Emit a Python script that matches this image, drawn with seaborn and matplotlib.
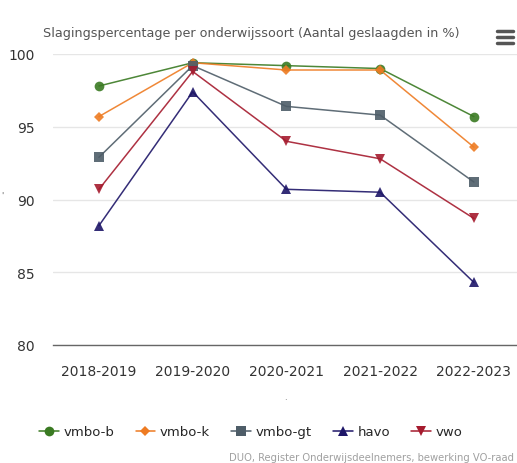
import pandas as pd
import matplotlib
matplotlib.use("Agg")
import matplotlib.pyplot as plt
import seaborn as sns
from matplotlib.lines import Line2D

# data
years = ["2018-2019", "2019-2020", "2020-2021", "2021-2022", "2022-2023"]
vmbo_b = [97.8, 99.4, 99.2, 99.0, 95.7]
vmbo_k = [95.7, 99.4, 98.9, 98.9, 93.6]
vmbo_gt = [92.9, 99.2, 96.4, 95.8, 91.2]
havo = [88.2, 97.4, 90.7, 90.5, 84.3]
vwo = [90.7, 98.8, 94.0, 92.8, 88.7]

series = ["vmbo-b", "vmbo-k", "vmbo-gt", "havo", "vwo"]
colors = ["#3a7a22", "#ee7b22", "#4e5d68", "#1e1668", "#a51b2e"]
markers = ["o", "D", "s", "^", "v"]
msizes = [7, 5, 7, 7, 7]

df = pd.DataFrame({
    "jaar": years * 5,
    "pct": vmbo_b + vmbo_k + vmbo_gt + havo + vwo,
    "soort": [s for s in series for _ in years],
})

sns.set_style("white")
fig = plt.figure(figsize=(5.17, 4.64), dpi=100)
ax = fig.add_axes([53 / 517, 1 - 346 / 464, 464 / 517, 291 / 464])

for s, c, m, ms in zip(series, colors, markers, msizes):
    sub = df[df["soort"] == s]
    sns.lineplot(data=sub, x="jaar", y="pct", ax=ax, color=c, marker=m,
                 markersize=ms, markeredgewidth=0, linewidth=1.1,
                 legend=False, sort=False)
    ax.lines[-1].set_alpha(0.9)

ax.set_ylim(80, 100)
ax.set_xlim(-0.49, 4.46)
ax.set_yticks([80, 85, 90, 95, 100])
ax.yaxis.grid(True, color="#e6e6e6", linewidth=1)
ax.set_axisbelow(True)
for sp in ["left", "right", "top"]:
    ax.spines[sp].set_visible(False)
ax.spines["bottom"].set_color("#666666")
ax.spines["bottom"].set_linewidth(1)
ax.tick_params(axis="both", length=0, labelsize=10, colors="#333333")
ax.tick_params(axis="y", pad=13)
ax.tick_params(axis="x", pad=14)
ax.set_xlabel(".", fontsize=6, color="#666666", labelpad=10)
ax.set_ylabel("'", fontsize=6, color="#666666", rotation=0)
ax.yaxis.set_label_coords(-0.11, 0.5)

fig.text(43 / 517, 1 - 33 / 464, "Slagingspercentage per onderwijssoort (Aantal geslaagden in %)",
         fontsize=9.2, color="#555555", va="center", ha="left")

# menu icon
for yy in [32, 38, 44]:
    fig.add_artist(Line2D([497 / 517, 513 / 517], [1 - yy / 464] * 2,
                          color="#555555", linewidth=2.5, solid_capstyle="round"))

handles = [Line2D([], [], color=c, marker=m, markersize=ms, markeredgewidth=0, linewidth=1.1)
           for c, m, ms in zip(colors, markers, msizes)]
fig.legend(handles, series, loc="center", bbox_to_anchor=(0.485, 1 - 433 / 464), ncol=5,
           frameon=False, fontsize=9.5, handlelength=1.5, handletextpad=0.35,
           columnspacing=1.6)

fig.text(514 / 517, 1 - 458 / 464, "DUO, Register Onderwijsdeelnemers, bewerking VO-raad",
         fontsize=7.2, color="#a0a0a0", ha="right", va="center")

fig.savefig("out.png", dpi=100)
